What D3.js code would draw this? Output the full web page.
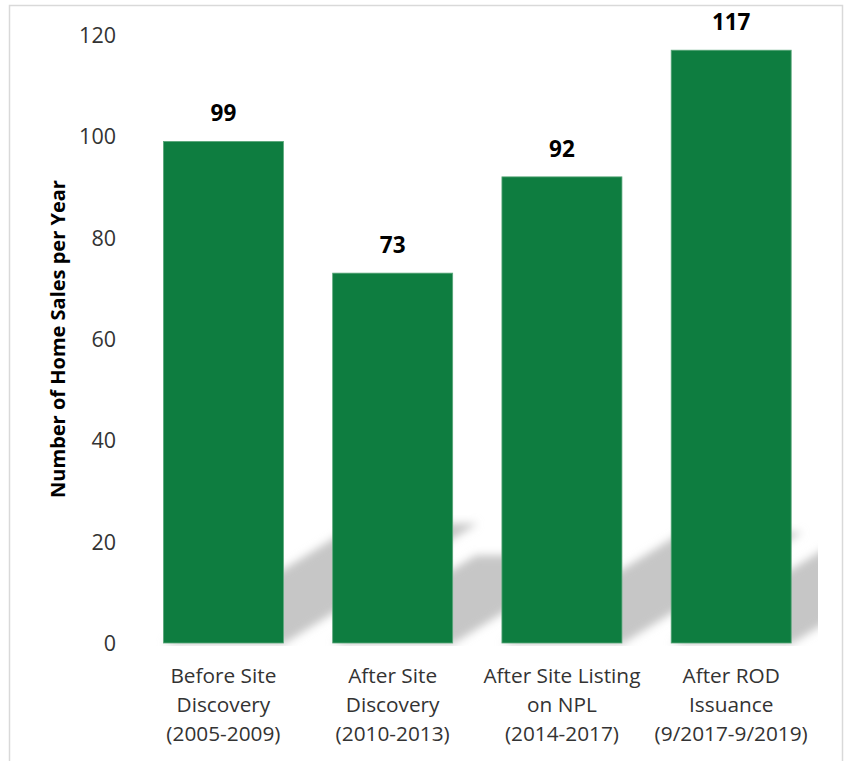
<!DOCTYPE html>
<html>
<head>
<meta charset="utf-8">
<script src="https://cdn.jsdelivr.net/npm/d3@7"></script>
<style>
  html, body { margin: 0; padding: 0; background: #ffffff; }
  svg { display: block; }
</style>
</head>
<body>
<div id="chart"></div>
<script>
const categories = [
  ["Before Site", "Discovery", "(2005-2009)"],
  ["After Site", "Discovery", "(2010-2013)"],
  ["After Site Listing", "on NPL", "(2014-2017)"],
  ["After ROD", "Issuance", "(9/2017-9/2019)"]
];
const values = [99, 73, 92, 117];
const yTicks = [0, 20, 40, 60, 80, 100, 120];
const yTitle = "Number of Home Sales per Year";

const W = 845, H = 761;
const font = "'Open Sans', sans-serif";
const svg = d3.select("#chart").append("svg").attr("width", W).attr("height", H);

// chart border
svg.append("rect").attr("x", 9.5).attr("y", 5.5).attr("width", 833).attr("height", 780)
  .attr("fill", "#fff").attr("stroke", "#d9d9d9").attr("stroke-width", 1.5);

const keys = categories.map((c, i) => i);
const x = d3.scaleBand().domain(keys).range([138.7, 815.9]).paddingInner(0.291).paddingOuter(0.146);
const y = d3.scaleLinear().domain([0, 120]).range([643, 35]);

const defs = svg.append("defs");
defs.append("filter").attr("id", "blur").attr("x", "-20%").attr("y", "-30%").attr("width", "140%").attr("height", "160%")
  .append("feGaussianBlur").attr("stdDeviation", 4.5);
defs.append("clipPath").attr("id", "plotclip").append("rect")
  .attr("x", 120).attr("y", 20).attr("width", 818 - 120).attr("height", 646 - 20);

// perspective shadows
const shadowG = svg.append("g").attr("clip-path", "url(#plotclip)");
shadowG.append("g").attr("filter", "url(#blur)")
  .selectAll("polygon").data(values).join("polygon")
  .attr("fill", "#c6c6c6")
  .attr("points", (d, i) => {
    const x0 = x(i), x1 = x0 + x.bandwidth(), b = y(0) + 1;
    const h = 0.24 * (y(0) - y(d));
    const dx = h / 0.62;
    return [[x0, b], [x1, b], [x1 + dx, b - h], [x0 + dx, b - h]].map(p => p.join(",")).join(" ");
  });

// bars
svg.append("g").selectAll("rect").data(values).join("rect")
  .attr("x", (d, i) => x(i)).attr("y", d => y(d))
  .attr("width", x.bandwidth()).attr("height", d => y(0) - y(d))
  .attr("fill", "#0e7d40").attr("stroke", "#5aa77a").attr("stroke-width", 0.8);

// value labels
svg.append("g").selectAll("text").data(values).join("text")
  .attr("x", (d, i) => x(i) + x.bandwidth() / 2).attr("y", d => y(d) - 20)
  .attr("text-anchor", "middle").attr("font-family", font).attr("font-weight", "bold")
  .attr("font-size", 22.5).attr("fill", "#000").text(d => d);

// y axis (labels only)
const yAxis = d3.axisLeft(y).tickValues(yTicks).tickSize(0).tickPadding(0);
const yg = svg.append("g").attr("transform", "translate(116,0)").call(yAxis);
yg.select(".domain").remove();
yg.selectAll("text").attr("font-family", font).attr("font-size", 21.5).attr("fill", "#333").attr("dy", "0.35em");

// y title
svg.append("text").attr("transform", `translate(65,${(y(0) + y(120)) / 2}) rotate(-90)`)
  .attr("text-anchor", "middle").attr("font-family", font).attr("font-weight", "bold")
  .attr("font-size", 20).attr("fill", "#000").text(yTitle);

// x category labels
const xg = svg.append("g");
categories.forEach((lines, i) => {
  const t = xg.append("text").attr("text-anchor", "middle").attr("font-family", font)
    .attr("font-size", 20.8).attr("fill", "#333");
  lines.forEach((ln, j) => {
    t.append("tspan").attr("x", x(i) + x.bandwidth() / 2).attr("y", 682.5 + j * 29).text(ln);
  });
});
</script>
</body>
</html>
